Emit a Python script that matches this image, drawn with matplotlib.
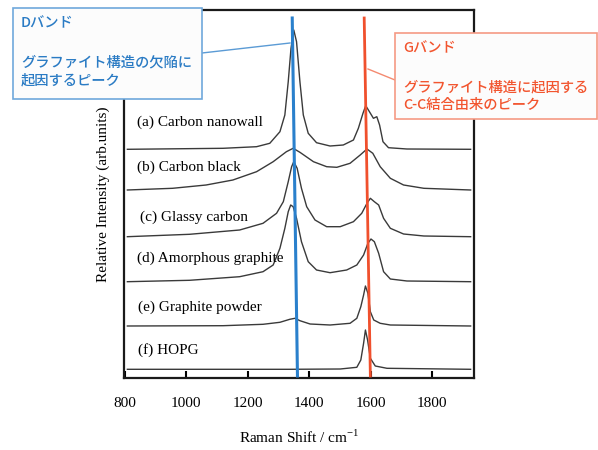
import matplotlib

matplotlib.use("Agg")

import matplotlib.pyplot as plt
from matplotlib.patches import Rectangle

plt.rcParams["font.family"] = ["Liberation Serif", "DejaVu Serif"]

# Traced spectra: Raman shift (cm-1) and intensity above each baseline (arb.)
nanowall_x = [809, 1120, 1229, 1272, 1305, 1321, 1332, 1341, 1350, 1359, 1370,
              1381, 1397, 1424, 1468, 1511, 1544, 1560, 1575, 1584, 1596, 1609,
              1620, 1629, 1640, 1658, 1718, 1925]
nanowall_y = [0, 1, 2.6, 6, 17.6, 34.3, 67.6, 101, 119.3, 107.6, 67.6,
              34.3, 16, 6.6, 3.3, 4.3, 9.3, 21, 36, 43.6, 37.6, 31,
              32.6, 24.3, 7.6, 1.6, 0.3, 0]

black_x = [809, 956, 1065, 1152, 1229, 1283, 1326, 1348, 1370, 1414, 1457,
           1490, 1533, 1566, 1588, 1607, 1631, 1664, 1707, 1773, 1925]
black_y = [0, 1.7, 5, 10, 18.3, 28.3, 38.3, 41.7, 37.7, 28.3, 23.3,
           22.7, 26.7, 35, 41, 36.7, 23.3, 11.7, 5, 1.7, 0]

glassy_x = [809, 1011, 1174, 1250, 1294, 1316, 1332, 1343, 1350, 1361, 1375,
            1392, 1419, 1457, 1501, 1544, 1571, 1588, 1599, 1612, 1626, 1642,
            1664, 1707, 1773, 1925]
glassy_y = [0, 2.4, 6.7, 13.4, 23.4, 35, 55, 70, 75, 68.4, 48.4,
            30, 16.7, 10, 10, 15, 23.4, 33.4, 38.4, 35, 31.7, 18.4,
            8.4, 2.7, 0.7, 0]

amorph_x = [809, 1011, 1174, 1250, 1283, 1305, 1321, 1332, 1340, 1348, 1359,
            1375, 1397, 1424, 1468, 1522, 1555, 1577, 1591, 1601, 1612, 1626,
            1642, 1664, 1718, 1925]
amorph_y = [0, 1.4, 5, 10, 16.7, 33.4, 53.4, 70, 76.7, 75, 63.4,
            40, 20, 11.7, 9, 11.7, 16.7, 26.7, 38.4, 42.7, 40, 28.4,
            10, 2.7, 0.7, 0]

powder_x = [809, 1120, 1250, 1305, 1337, 1354, 1370, 1403, 1468, 1533, 1555,
            1568, 1577, 1583, 1591, 1599, 1610, 1631, 1664, 1925]
powder_y = [0, 0.3, 1.7, 3.7, 6.7, 7.7, 5.3, 2, 1, 2.7, 7.7,
            19.3, 31, 40, 32.7, 14.3, 6, 2.7, 1, 0]

hopg_x = [809, 1337, 1501, 1555, 1568, 1577, 1583, 1590, 1599, 1615, 1653, 1925]
hopg_y = [0, 0, 0.3, 2, 9.3, 26, 39.3, 29.3, 11, 3.3, 1, 0]

labels = ["(a) Carbon nanowall", "(b) Carbon black", "(c) Glassy carbon",
          "(d) Amorphous graphite", "(e) Graphite powder", "(f) HOPG"]
offsets = [228.7, 188, 141.3, 96.3, 52, 8.7]
label_pos = [(840, 256), (840, 211), (850, 161), (840, 120), (843, 71), (845, 28)]

# band marker lines (start / end in data coords)
d_line_x = [1345, 1362]
g_line_x = [1579, 1599]
line_y = [360, 2]

fig = plt.figure(figsize=(5.98, 4.5), dpi=100)
ax = fig.add_axes([124 / 598, 72 / 450, 350 / 598, 368 / 450])

spectra = [(nanowall_x, nanowall_y), (black_x, black_y), (glassy_x, glassy_y),
           (amorph_x, amorph_y), (powder_x, powder_y), (hopg_x, hopg_y)]
for (xs, ys), off, lab, pos in zip(spectra, offsets, labels, label_pos):
    ax.plot(xs, [v + off for v in ys], color="#3a3a3a", lw=1.0)
    ax.text(pos[0], pos[1], lab, fontsize=11, va="center", ha="left")

ax.plot(d_line_x, line_y, color="#2a80cc", lw=2.2, clip_on=False, zorder=5)
ax.plot(g_line_x, line_y, color="#f0502d", lw=2.0, clip_on=False, zorder=5)

ax.set_xlim(798, 1936)
ax.set_ylim(0, 368)
ax.set_xticks([800, 1000, 1200, 1400, 1600, 1800])
ax.set_yticks([])
ax.tick_params(axis="x", direction="in", length=5, width=1.5, pad=14,
               labelsize=11, top=False)
for s in ax.spines.values():
    s.set_linewidth(1.6)
    s.set_color("#1a1a1a")
ax.set_xlabel("Raman Shift / cm$^{\\mathregular{-1}}$", fontsize=11, labelpad=13)
ax.set_ylabel("Relative Intensity (arb.units)", fontsize=11, labelpad=10)

# callout boxes (figure pixel coords -> fraction)
jp = ["Noto Sans CJK JP", "DejaVu Sans"]


def px(x, y):
    return x / 598, 1 - y / 450


fig.add_artist(Rectangle(px(13, 99), 189 / 598, 91 / 450, transform=fig.transFigure,
                         facecolor="#fcfcfc", edgecolor="#6fa8dc", lw=1.2, zorder=10))
fig.add_artist(Rectangle(px(395, 119), 202 / 598, 86 / 450, transform=fig.transFigure,
                         facecolor="#fcfcfc", edgecolor="#f59a84", lw=1.2, zorder=10))
blue_text = "#2a7bc4"
red_text = "#f2552f"
for txt, (x, y) in [("Dバンド", (21, 23)), ("グラファイト構造の欠陥に", (21, 62)),
                    ("起因するピーク", (21, 80))]:
    fig.text(*px(x, y), txt, family=jp, fontsize=10.3, color=blue_text,
             fontweight="medium", va="center", ha="left", zorder=11)
for txt, (x, y) in [("Gバンド", (403, 48)), ("グラファイト構造に起因する", (403, 87)),
                    ("C-C結合由来のピーク", (403, 105))]:
    fig.text(*px(x, y), txt, family=jp, fontsize=10.3, color=red_text,
             fontweight="medium", va="center", ha="left", zorder=11)

# connector lines
fig.add_artist(plt.Line2D([202 / 598, 290 / 598], [1 - 53 / 450, 1 - 43 / 450],
                          color="#5b9bd5", lw=1.0, transform=fig.transFigure))
fig.add_artist(plt.Line2D([395 / 598, 368 / 598], [1 - 80 / 450, 1 - 69 / 450],
                          color="#f48a70", lw=1.0, transform=fig.transFigure))

fig.savefig("out.png", dpi=100)
